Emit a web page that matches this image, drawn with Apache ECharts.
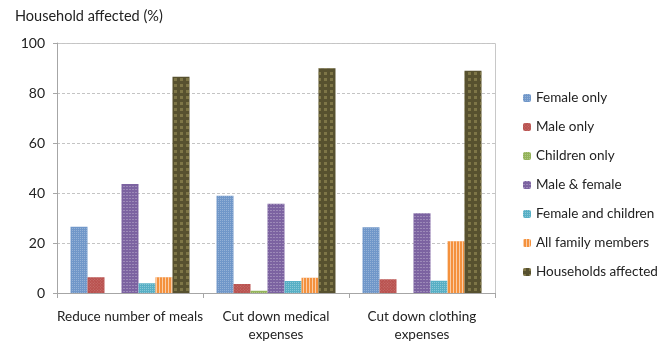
<!DOCTYPE html>
<html>
<head>
<meta charset="utf-8">
<script src="https://cdn.jsdelivr.net/npm/echarts@6/dist/echarts.min.js"></script>
<style>
  html, body { margin: 0; padding: 0; background: #fff; }
  #chart { width: 664px; height: 344px; }
</style>
</head>
<body>
<div id="chart"></div>
<script>
// Coping strategies by household member affected (%)
const categories = ['Reduce number of meals', 'Cut down medical\nexpenses', 'Cut down clothing\nexpenses'];
const seriesNames = ['Female only', 'Male only', 'Children only', 'Male & female', 'Female and children', 'All family members', 'Households affected'];
const femaleOnly = [26.5, 38.9, 26.3];
const maleOnly = [6.3, 3.6, 5.5];
const childrenOnly = [0, 0.9, 0];
const maleFemale = [43.6, 35.7, 31.9];
const femaleChildren = [3.9, 4.8, 4.9];
const allFamily = [6.3, 6.1, 20.7];
const householdsAffected = [86.5, 89.9, 88.9];
const yTicks = { min: 0, max: 100, interval: 20 };

const values = [femaleOnly, maleOnly, childrenOnly, maleFemale, femaleChildren, allFamily, householdsAffected];
const colors = ['#7097c9', '#b9514e', '#93b35a', '#7c63a1', '#57afc5', '#f4913d', '#57512f'];
const decals = [
  { symbol: 'rect', symbolSize: 1, dashArrayX: [1, 1], dashArrayY: [1, 1], color: 'rgba(255,255,255,0.25)', rotation: 0 },
  { symbol: 'rect', symbolSize: 1, dashArrayX: [1, 1], dashArrayY: [1, 1], color: 'rgba(255,255,255,0.2)', rotation: Math.PI / 4 },
  { symbol: 'rect', symbolSize: 1, dashArrayX: [1, 1], dashArrayY: [1, 1], color: 'rgba(255,255,255,0.25)', rotation: 0 },
  { symbol: 'rect', symbolSize: 1, dashArrayX: [2, 1], dashArrayY: [1, 2], color: 'rgba(255,255,255,0.25)', rotation: 0 },
  { symbol: 'rect', symbolSize: 1, dashArrayX: [1, 1], dashArrayY: [1, 1], color: 'rgba(255,255,255,0.3)', rotation: 0 },
  { symbol: 'rect', symbolSize: 1, dashArrayX: [1, 2], dashArrayY: [4, 0], color: 'rgba(255,255,255,0.55)', rotation: 0 },
  { symbol: 'rect', symbolSize: 1, dashArrayX: [3, 3], dashArrayY: [3, 3], color: 'rgba(165,155,95,0.5)', rotation: 0 }
];

const font = 'Lato, "Open Sans", sans-serif';
const chart = echarts.init(document.getElementById('chart'), null, { renderer: 'canvas' });

chart.setOption({
  animation: false,
  textStyle: { fontFamily: font },
  graphic: [{
    type: 'text', left: 15, top: 9,
    style: { text: 'Household affected (%)', font: '14.5px ' + font, fill: '#222' }
  }, {
    // plot frame: top and right edges
    type: 'polyline', silent: true,
    shape: { points: [[57, 43.5], [495.5, 43.5], [495.5, 293]] },
    style: { stroke: '#c8c8c8', lineWidth: 1, fill: null }
  }],
  legend: {
    orient: 'vertical', left: 518, top: 86,
    itemWidth: 8, itemHeight: 8, itemGap: 15,
    textStyle: { fontSize: 13.5, color: '#222', fontFamily: font },
    data: seriesNames
  },
  grid: { left: 57, right: 169, top: 43, bottom: 51, containLabel: false, outerBoundsMode: 'none' },
  xAxis: {
    type: 'category', data: categories,
    axisLine: { lineStyle: { color: '#a6a6a6' } },
    axisTick: { show: true, length: 5, lineStyle: { color: '#a6a6a6' } },
    axisLabel: { interval: 0, fontSize: 13.5, color: '#222', margin: 15, lineHeight: 18, fontFamily: font },
  },
  yAxis: {
    type: 'value', min: yTicks.min, max: yTicks.max, interval: yTicks.interval,
    axisLine: { show: true, lineStyle: { color: '#a6a6a6' } },
    axisTick: { show: true, length: 4, lineStyle: { color: '#a6a6a6' } },
    axisLabel: { fontSize: 14, color: '#222', margin: 12, fontFamily: font },
    splitLine: { lineStyle: { color: '#c4c4c4', type: [3, 2] } }
  },
  series: seriesNames.map((name, i) => ({
    name, type: 'bar', data: values[i],
    barGap: '0%', barCategoryGap: '18.5%',
    itemStyle: { color: colors[i], decal: decals[i] }
  })),
  aria: { enabled: false, decal: { show: true } }
});
</script>
</body>
</html>
